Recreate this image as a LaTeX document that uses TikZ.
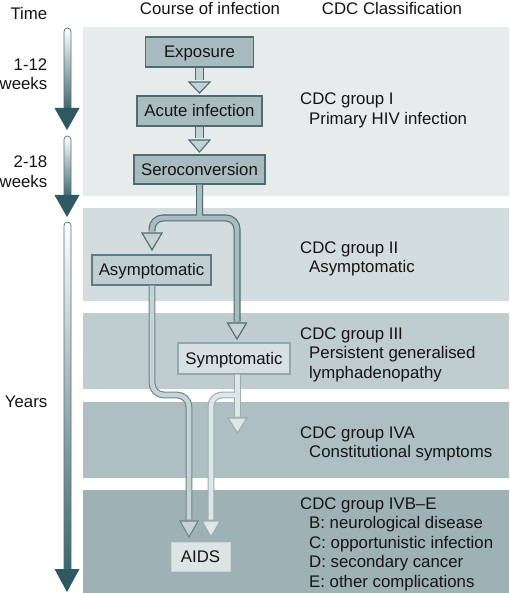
\documentclass[tikz,border=0pt]{standalone}
\usepackage{fontspec}
\setmainfont{Liberation Sans}
\usetikzlibrary{calc}
\definecolor{bandA}{HTML}{E6EBEC}
\definecolor{bandB}{HTML}{D3DCDE}
\definecolor{bandC}{HTML}{BFCDD0}
\definecolor{bandD}{HTML}{ADBFC2}
\definecolor{bandE}{HTML}{9EB2B6}
\definecolor{darkline}{HTML}{4E6C72}
\definecolor{topfill}{HTML}{A8BCBF}
\definecolor{arrfill}{HTML}{C4D2D4}
\definecolor{serofill}{HTML}{A9BCBF}
\definecolor{asymfill}{HTML}{C0CED1}
\definecolor{asymline}{HTML}{5E7D82}
\definecolor{apathline}{HTML}{6A878C}
\definecolor{apathfill}{HTML}{C6D3D6}
\definecolor{sympfill}{HTML}{D6DFE1}
\definecolor{sympline}{HTML}{93A8AC}
\definecolor{spathline}{HTML}{9AAEB2}
\definecolor{spathfill}{HTML}{DEE6E8}
\definecolor{aidsfill}{HTML}{DCE4E6}
\definecolor{aidsline}{HTML}{CBD5D7}
\definecolor{timeline}{HTML}{4F7379}
\definecolor{timemid}{HTML}{3C646B}
\definecolor{timedark}{HTML}{2E5960}
\newcommand{\ahead}[4]{\filldraw[#1] ($(#2)+(-#3,-#4)$) -- (#2) -- ($(#2)+(#3,-#4)$) -- cycle;}
\newcommand{\timearrow}[3]{%
  \shade[timeshaft] (64,#1) rectangle (71,#2+3);
  \fill[timedark] (54.5,#2) -- (79.5,#2) -- (67,#3) -- cycle;}
\begin{document}
\begin{tikzpicture}[x=1pt,y=-1pt,
  lbl/.style={inner sep=0pt, font=\fontsize{16.8}{19.5}\selectfont, text=black!92},
  box/.style={lbl, line width=1.1pt, minimum height=30pt, text height=11.8pt, text depth=0pt, align=center},
  topbox/.style={box, draw=darkline, fill=topfill},
  asymbox/.style={box, draw=asymline, fill=asymfill},
  sympbox/.style={box, draw=sympline, fill=sympfill},
  aidsbox/.style={box, draw=aidsline, line width=0.6pt, fill=aidsfill},
  smallshaft/.style={draw=darkline, line width=1.1pt, double=arrfill, double distance=7pt},
  seroshaft/.style={draw=darkline, line width=1.1pt, double=serofill, double distance=4.8pt},
  apath/.style={draw=apathline, line width=1.1pt, double=apathfill, double distance=4.6pt},
  spath/.style={draw=spathline, line width=1.1pt, double=spathfill, double distance=4.6pt},
  smallhead/.style={draw=darkline, fill=arrfill, line width=1.1pt, line join=miter},
  serohead/.style={draw=darkline, fill=arrfill, line width=1.1pt},
  ahd/.style={draw=apathline, fill=apathfill, line width=1.1pt},
  shd/.style={draw=spathline, fill=spathfill, line width=1.1pt},
  timeshaft/.style={top color=white, bottom color=timemid, draw=timeline, line width=0.7pt, rounded corners=3.5pt},
  cdc/.style={lbl, anchor=base west},
  tl/.style={lbl, anchor=base east}]
\useasboundingbox (0,0) rectangle (509,593);
% bands
\fill[bandA] (83,27) rectangle (509,196);
\fill[bandB] (83,208) rectangle (509,301);
\fill[bandC] (83,313) rectangle (509,389);
\fill[bandD] (83,402) rectangle (509,478);
\fill[bandE] (83,490) rectangle (509,593);
% time arrows
\timearrow{28}{108}{130}
\timearrow{136}{195}{217}
\timearrow{222}{569}{592}
% nodes
\node[topbox, minimum width=108pt] (exp) at (199.5,52) {Exposure};
\node[topbox, minimum width=125pt] (acute) at (199.5,111) {Acute infection};
\node[topbox, minimum width=131pt, minimum height=29pt] (sero) at (199.5,169.5) {Seroconversion};
\node[asymbox, minimum width=119pt] (asym) at (151.5,270) {Asymptomatic};
\node[sympbox, minimum width=112pt, minimum height=31pt] (symp) at (234,358.5) {Symptomatic};
\node[aidsbox, minimum width=59pt, minimum height=29pt] (aids) at (200.5,556.5) {AIDS};
% coordinates
\coordinate (t1) at (199.5,93);
\coordinate (t2) at (199.5,152);
\coordinate (split) at (199.5,218);
\coordinate (aT) at (152,250);
\coordinate (sT) at (237,339);
\coordinate (j1) at (237.5,395);
\coordinate (sdT) at (237.5,433);
\coordinate (aidsL) at (189,537);
\coordinate (aidsR) at (211,537);
% small arrows
\ahead{smallhead}{t1}{10.5}{11}
\draw[smallshaft] (exp.south) -- ($(t1)+(0,-12.5)$);
\ahead{smallhead}{t2}{10.5}{12}
\draw[smallshaft] (acute.south) -- ($(t2)+(0,-13.5)$);
% seroconversion split
\ahead{serohead}{aT}{10}{17}
\ahead{serohead}{sT}{9.5}{16}
\draw[seroshaft] (sero.south) -- (split)
  ($(aT)+(0,-18.5)$) [rounded corners=11pt] -- (aT |- split) -- (sT |- split) -- ($(sT)+(0,-17.5)$);
% asymptomatic to AIDS
\ahead{ahd}{aidsL}{9}{16}
\draw[apath, rounded corners=12pt] (asym.south -| aT) -- (152,395) -- (189,395) -- ($(aidsL)+(0,-17.5)$);
% symptomatic paths
\ahead{shd}{sdT}{9.5}{15}
\ahead{shd}{aidsR}{9}{16}
\draw[spath] (symp.south -| j1) -- ($(sdT)+(0,-16.5)$)
  (j1) [rounded corners=11pt] -- (211,395) -- ($(aidsR)+(0,-17.5)$);
% headers
\node[tl] (thead) at (47.5,20) {Time};
\node[lbl, anchor=base] (chead) at (210,15) {Course of infection};
\node[lbl, anchor=base] (dhead) at (392,15) {CDC Classification};
% time labels
\node[tl] (w1a) at (47.5,71) {1-12};
\node[tl] (w1b) at (47.5,90) {weeks};
\node[tl] (w2a) at (47.5,168) {2-18};
\node[tl] (w2b) at (47.5,188) {weeks};
\node[tl] (yrs) at (47.5,407) {Years};
% CDC texts
\node[cdc] (g1a) at (300,105) {CDC group I};
\node[cdc] (g1b) at (309,124.5) {Primary HIV infection};
\node[cdc] (g2a) at (300,253) {CDC group II};
\node[cdc] (g2b) at (309,272.5) {Asymptomatic};
\node[cdc] (g3a) at (300,339) {CDC group III};
\node[cdc] (g3b) at (309,358.5) {Persistent generalised};
\node[cdc] (g3c) at (309,378) {lymphadenopathy};
\node[cdc] (g4a) at (300,438) {CDC group IVA};
\node[cdc] (g4b) at (309,457.5) {Constitutional symptoms};
\node[cdc] (g5a) at (300,509) {CDC group IVB--E};
\node[cdc] (g5b) at (309,528.5) {B: neurological disease};
\node[cdc] (g5c) at (309,548) {C: opportunistic infection};
\node[cdc] (g5d) at (309,567.5) {D: secondary cancer};
\node[cdc] (g5e) at (309,587) {E: other complications};
\end{tikzpicture}
\end{document}
